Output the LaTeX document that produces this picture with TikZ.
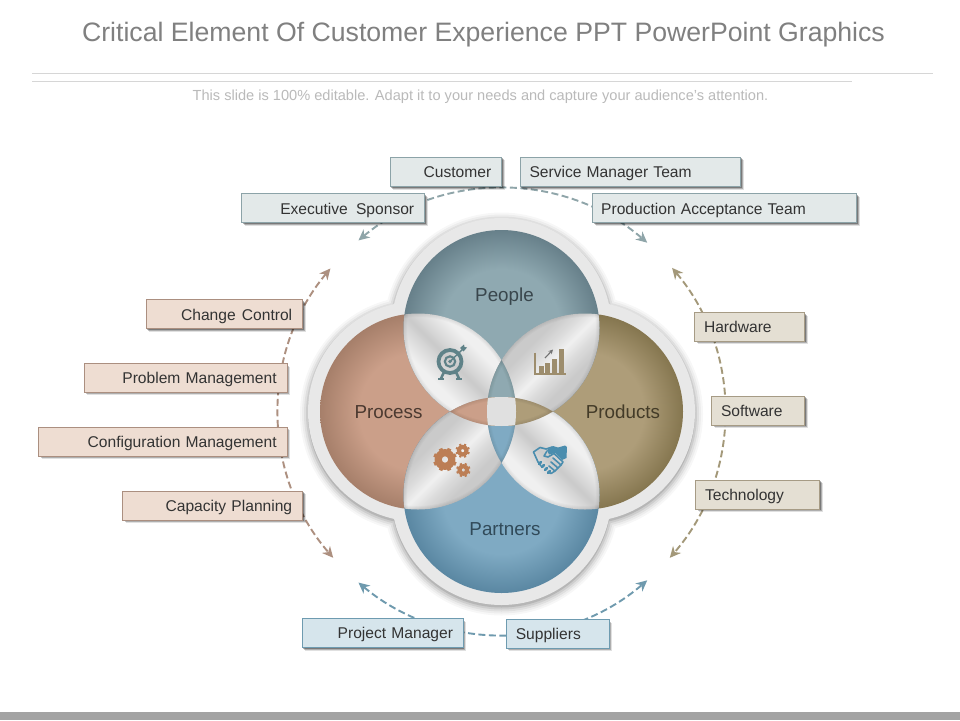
\documentclass[tikz,border=0pt]{standalone}
\usepackage{fontspec}
\setmainfont{Liberation Sans}
\usetikzlibrary{arrows.meta,shadows}
\definecolor{tealc}{HTML}{8FA9B1}\definecolor{teald}{HTML}{67808A}
\definecolor{procc}{HTML}{CB9F89}\definecolor{procd}{HTML}{A67F6A}
\definecolor{prodc}{HTML}{AE9D79}\definecolor{prodd}{HTML}{85764F}
\definecolor{partc}{HTML}{7FAAC3}\definecolor{partd}{HTML}{5A87A2}
\definecolor{mlight}{HTML}{F0F0F0}\definecolor{mmid}{HTML}{DCDCDC}\definecolor{mgray}{HTML}{CACACA}
\pgfdeclareradialshading{rteal}{\pgfpoint{0bp}{0bp}}{color(0bp)=(tealc);color(15bp)=(tealc);color(25bp)=(teald);color(50bp)=(teald)}
\pgfdeclareradialshading{rproc}{\pgfpoint{0bp}{0bp}}{color(0bp)=(procc);color(15bp)=(procc);color(25bp)=(procd);color(50bp)=(procd)}
\pgfdeclareradialshading{rprod}{\pgfpoint{0bp}{0bp}}{color(0bp)=(prodc);color(15bp)=(prodc);color(25bp)=(prodd);color(50bp)=(prodd)}
\pgfdeclareradialshading{rpart}{\pgfpoint{0bp}{0bp}}{color(0bp)=(partc);color(15bp)=(partc);color(25bp)=(partd);color(50bp)=(partd)}
\pgfdeclarehorizontalshading{metalA}{100bp}{color(0bp)=(mlight);color(39bp)=(mlight);color(45bp)=(mmid);color(50bp)=(mgray);color(55bp)=(mmid);color(61bp)=(mlight);color(100bp)=(mlight)}
\pgfdeclarehorizontalshading{metalB}{100bp}{color(0bp)=(mgray);color(39bp)=(mgray);color(45bp)=(mmid);color(50bp)=(mlight);color(55bp)=(mmid);color(61bp)=(mgray);color(100bp)=(mgray)}
\def\PeopleC{(501.5,328) circle[radius=98pt]}
\def\PartC{(501.5,495) circle[radius=98pt]}
\def\ProcC{(418,411.5) circle[radius=98pt]}
\def\ProdC{(585,411.5) circle[radius=98pt]}
\newcommand\softedge[1]{\foreach \w in {1,3,5,7}{\draw[black,opacity=.022,line width=\w pt] #1;}}
\newcommand\petal[5]{\begin{scope}\clip #1;\clip #2;
  \shade[shading=#3,shading angle=#4] #5;
  \softedge{#1}\softedge{#2}\end{scope}}
\newcommand\lenspiece[4]{\begin{scope}\clip #1;\clip #2;\clip #3;
  \fill[#4] (300,200) rectangle (700,620);
  \softedge{#1}\softedge{#2}\end{scope}}
\newcommand\mygear[5]{% x y outer hole colour
  \draw[#5,line width=#3pt-#4pt] (#1,#2) circle[radius=#3pt/2+#4pt/2-.6pt];
  \foreach \a in {0,45,...,315}{\draw[#5,line width=#3pt*.34] ({#1+(#3-1.5)*cos(\a+22.5)},{#2+(#3-1.5)*sin(\a+22.5)}) -- ({#1+(#3+.8)*cos(\a+22.5)},{#2+(#3+.8)*sin(\a+22.5)});}}
\newcommand\haloPath[1]{(501.5,328) circle[radius=#1pt] (501.5,495) circle[radius=#1pt] (418,411.5) circle[radius=#1pt] (585,411.5) circle[radius=#1pt]}
\tikzset{
  bx/.style={draw=#1,line width=.8pt,inner sep=0pt,inner xsep=9.5pt,font=\fontsize{15.6}{18}\selectfont,text=black!80,text height=13pt,text depth=1pt,
     general shadow={shadow xshift=3pt,shadow yshift=-3.2pt,fill=black,opacity=.12},
     general shadow={shadow xshift=2pt,shadow yshift=-2.2pt,fill=black,opacity=.22},
     general shadow={shadow xshift=1pt,shadow yshift=-1.2pt,fill=black,opacity=.3}},
  tealbox/.style={bx=boxteal,fill=fillteal},
  procbox/.style={bx=boxproc,fill=fillproc},
  prodbox/.style={bx=boxprod,fill=fillprod},
  partbox/.style={bx=boxpart,fill=fillpart},
  arcline/.style={draw=#1,line width=1.9pt,dash pattern=on 7pt off 3.5pt,{Stealth[length=11pt,width=10.5pt,inset=3.5pt]}-{Stealth[length=11pt,width=10.5pt,inset=3.5pt]}},
  circlabel/.style={font=\fontsize{18.8}{22}\selectfont,inner sep=0pt}
}
\definecolor{boxteal}{HTML}{8CA3A8}\definecolor{fillteal}{HTML}{E3E9E9}
\definecolor{boxproc}{HTML}{AB8F80}\definecolor{fillproc}{HTML}{EEDDD2}
\definecolor{boxprod}{HTML}{A69B85}\definecolor{fillprod}{HTML}{E4DFD3}
\definecolor{boxpart}{HTML}{6E9BB0}\definecolor{fillpart}{HTML}{D6E5EC}
\definecolor{arcteal}{HTML}{8FA5A9}\definecolor{arcproc}{HTML}{AD9080}
\definecolor{arcprod}{HTML}{A39879}\definecolor{arcpart}{HTML}{6F9AAE}
\definecolor{hands}{HTML}{4A8DAE}\definecolor{targetc}{HTML}{5F8288}\definecolor{gearc}{HTML}{BC7E55}
\newcommand\boxnode[8]{% name x1 y1 x2 y2 style align text
  \node[#6,minimum height=#5pt-#3pt,text width=#4pt-#2pt-19pt,align=#7] (#1) at ({(#2+#4)/2},{(#3+#5)/2}) {#8};}
\begin{document}
\begin{tikzpicture}[x=1pt,y=1pt,yscale=-1]
\useasboundingbox (0,0) rectangle (960,720);
\fill[white] (0,0) rectangle (960,720);
\node[font=\fontsize{26.65}{32}\selectfont,text=black!50,inner sep=0pt] (title) at (483.5,35) {Critical Element Of Customer Experience PPT PowerPoint Graphics};
\coordinate (la) at (32,73);\coordinate (lb) at (933,73);
\coordinate (lc) at (32,81);\coordinate (ld) at (852,81);
\draw[black!16,line width=.9pt] (la) -- (lb);
\draw[black!16,line width=.9pt] (lc) -- (ld);
\node[font=\fontsize{14.6}{17}\selectfont,text=black!27,inner sep=0pt] (sub) at (480.5,97) {This slide is 100\% editable. Adapt it to your needs and capture your audience's attention.};
\fill[black!36] (0,712) rectangle (960,720);
% halo shadow
\foreach \k/\o in {8/.03,6/.04,4/.06,2/.08,0/.11}{\fill[black,opacity=\o,yshift=2.5pt] \haloPath{11\k};}
\fill[black!9] \haloPath{110};
\foreach \x/\y in {398.5/308.5,604.5/308.5,398.5/514.5,604.5/514.5}{\fill[black!9] (\x,\y) circle[radius=6.5pt];}
% main circles
\shade[shading=rproc] \ProcC;
\shade[shading=rprod] \ProdC;
\shade[shading=rteal] \PeopleC;
\shade[shading=rpart] \PartC;
% metal petals
\petal{\PeopleC}{\ProcC}{metalA}{45}{(399.75,309.75) rectangle (519.75,429.75)}
\petal{\PeopleC}{\ProdC}{metalB}{-45}{(483.25,309.75) rectangle (603.25,429.75)}
\petal{\PartC}{\ProcC}{metalB}{-45}{(399.75,393.25) rectangle (519.75,513.25)}
\petal{\PartC}{\ProdC}{metalA}{45}{(483.25,393.25) rectangle (603.25,513.25)}
% small lens pieces
\lenspiece{\ProcC}{\ProdC}{\PeopleC}{tealc}
\lenspiece{\ProcC}{\ProdC}{\PartC}{partc}
\lenspiece{\PeopleC}{\PartC}{\ProcC}{procc}
\lenspiece{\PeopleC}{\PartC}{\ProdC}{prodc}
\begin{scope}\clip \PeopleC;\clip \PartC;\clip \ProcC;\clip \ProdC;
\fill[black!12] (450,360) rectangle (550,460);
\end{scope}
% circle labels
\node[circlabel,text=black!45!teald] (people) at (504.5,296.5) {People};
\node[circlabel,text=black!55!procd] (process) at (388.5,412) {Process};
\node[circlabel,text=black!50!prodd] (products) at (623,412) {Products};
\node[circlabel,text=black!45!partd] (partners) at (505,529.5) {Partners};
% target icon
\begin{scope}[color=targetc]
\draw[line width=3.8pt] (450,361.5) circle[radius=11.5pt];
\draw[line width=2.1pt] (450,361.5) circle[radius=5.2pt];
\fill (450,361.5) circle[radius=1.8pt];
\draw[line width=1.4pt] (450,361.5) -- (463,349);
\fill (460,348) -- (464,344.5) -- (464.5,347) -- (467,347.5) -- (463.5,351.5) -- cycle;
\draw[line width=2.6pt] (444,372) -- (441,378.5);
\draw[line width=2.6pt] (456,372) -- (459,378.5);
\draw[line width=2pt] (438,379) -- (444,379);
\draw[line width=2pt] (456,379) -- (462,379);
\end{scope}
% chart icon
\begin{scope}[color=prodc!90!black]
\draw[line width=1.2pt] (535,352.5) -- (535,374) -- (565.5,374);
\fill (539,366) rectangle (544,373.5);
\fill (545.3,363) rectangle (550.3,373.5);
\fill (552,359) rectangle (557,373.5);
\fill (559,349) rectangle (564,373.5);
\draw[black!55,line width=1.1pt,-{Stealth[length=4.5pt,width=4.5pt]}] (545,358) -- (553,349.5);
\end{scope}
% gear icon
\mygear{445}{459.5}{11}{3.8}{gearc}
\mygear{462.7}{450.7}{6.4}{2.4}{gearc}
\mygear{463.3}{470}{6.4}{2.4}{gearc}
% handshake icon
\begin{scope}[color=hands,line join=round,line cap=round]
\fill (547,450) -- (553,446) -- (558,447.5) -- (565,445.5) -- (567,447) -- (566.5,458) -- (562,460) -- (555,453) -- (549,454.5) -- cycle;
\draw[line width=1.6pt] (533.5,452) -- (540,447.5) -- (546,449) -- (552,447);
\draw[line width=1.6pt] (533.5,452) -- (538,462) -- (541,466);
\draw[line width=1.6pt] (547,451) -- (544,456) -- (548,457) -- (554,453.5) -- (563,462) -- (561,465) -- (553,458);
\draw[line width=1.6pt] (561,465) -- (558,468) -- (551,462);
\draw[line width=1.6pt] (558,468) -- (555,471) -- (549,466);
\draw[line width=1.6pt] (555,471) -- (551,473.5) -- (548,472);
\draw[line width=2.8pt] (539,464) -- (541,462);
\draw[line width=2.8pt] (542,467) -- (544,465);
\draw[line width=2.8pt] (545,470) -- (547,468);
\draw[line width=2.8pt] (548,473) -- (550,471);
\end{scope}
% arc end points
\coordinate (ta) at ({501.5+223*cos(230.1)},{411.5+223*sin(230.1)});
\coordinate (la2) at ({501.5+223*cos(219.9)},{411.5+223*sin(219.9)});
\coordinate (ra) at ({501.5+223*cos(-40.1)},{411.5+223*sin(-40.1)});
\coordinate (ba) at ({501.5+223*cos(129.9)},{411.5+223*sin(129.9)});
\draw[arcline=arcteal] (ta) arc[start angle=230.1,end angle=310.8,radius=223pt];
\draw[arcline=arcproc] (la2) arc[start angle=219.9,end angle=139,radius=223pt];
\draw[arcline=arcprod] (ra) arc[start angle=-40.1,end angle=41,radius=223pt];
\draw[arcline=arcpart] (ba) arc[start angle=129.9,end angle=49.2,radius=223pt];
% boxes
\boxnode{cust}{390}{157}{501.5}{186.5}{tealbox}{right}{Customer\hspace*{.8pt}}
\boxnode{serv}{520}{157}{740.5}{186.5}{tealbox}{left}{Service Manager Team}
\boxnode{exec}{241.5}{193.5}{424.5}{222.5}{tealbox}{right}{Executive\hspace{3pt} Sponsor\hspace*{.8pt}}
\boxnode{prodn}{592.5}{193.5}{856.5}{222.5}{tealbox}{left}{\hspace*{-.8pt}Production Acceptance Team}
\boxnode{chg}{146}{299.5}{302.5}{328.5}{procbox}{right}{Change\hspace{1pt} Control\hspace*{.8pt}}
\boxnode{prob}{84.3}{363.5}{287}{392}{procbox}{right}{Problem Management\hspace*{.8pt}}
\boxnode{conf}{38.5}{427}{287}{456}{procbox}{right}{Configuration Management\hspace*{.8pt}}
\boxnode{capa}{122.5}{491}{302.5}{520}{procbox}{right}{Capacity Planning\hspace*{.8pt}}
\boxnode{hard}{694.5}{312.3}{804.7}{341}{prodbox}{left}{Hardware}
\boxnode{soft}{711.5}{396}{804.7}{425}{prodbox}{left}{Software}
\boxnode{tech}{695.5}{480}{819.5}{509}{prodbox}{left}{Technology}
\boxnode{pm}{302.3}{618.3}{463.3}{647.3}{partbox}{right}{Project Manager\hspace*{.8pt}}
\boxnode{sup}{506.3}{619.5}{609}{648}{partbox}{left}{Suppliers}
\end{tikzpicture}
\end{document}
